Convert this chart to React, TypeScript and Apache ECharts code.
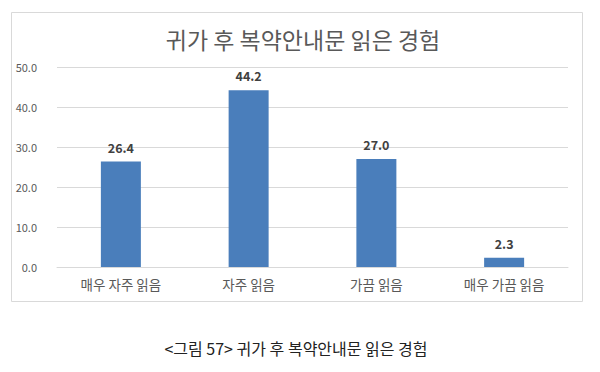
import React, { useEffect, useRef } from "react";
import * as echarts from "echarts";

const categories = ["매우 자주 읽음", "자주 읽음", "가끔 읽음", "매우 가끔 읽음"];
const values = [26.4, 44.2, 27.0, 2.3];
const titleText = "귀가 후 복약안내문 읽은 경험";
const captionText = "<그림 57> 귀가 후 복약안내문 읽은 경험";

const FONT = "'Noto Sans CJK KR', 'Noto Sans', sans-serif";

export default function App() {
  const ref = useRef<HTMLDivElement>(null);
  useEffect(() => {
    document.body.style.margin = "0";
    const chart = echarts.init(ref.current!, undefined, { renderer: "svg" });
    chart.setOption({
      animation: false,
      backgroundColor: "#ffffff",
      textStyle: { fontFamily: FONT },
      title: {
        text: titleText,
        left: 298,
        top: 22,
        textAlign: "center",
        textStyle: { fontSize: 23, fontWeight: "normal", color: "#595959", fontFamily: FONT },
      },
      graphic: [
        {
          type: "rect",
          shape: { x: 11.5, y: 12.5, width: 571, height: 289 },
          style: { fill: "none", stroke: "#d9d9d9", lineWidth: 1 },
          silent: true,
          z: -1,
        },
        {
          type: "text",
          x: 296,
          y: 348,
          style: {
            text: captionText,
            fontSize: 16,
            fontFamily: FONT,
            fill: "#222222",
            align: "center",
            verticalAlign: "middle",
          },
        },
      ],
      grid: { left: 57, right: 32, top: 67, bottom: 105 },
      xAxis: {
        type: "category",
        data: categories,
        axisLine: { lineStyle: { color: "#d9d9d9" } },
        axisTick: { show: false },
        axisLabel: { color: "#595959", fontSize: 13.5, margin: 10, fontFamily: FONT },
      },
      yAxis: {
        type: "value",
        min: 0,
        max: 50,
        interval: 10,
        axisLine: { show: false },
        axisTick: { show: false },
        splitLine: { lineStyle: { color: "#d9d9d9" } },
        axisLabel: {
          color: "#595959",
          fontSize: 11,
          margin: 20,
          formatter: (v: number) => v.toFixed(1),
          fontFamily: FONT,
        },
      },
      series: [
        {
          type: "bar",
          data: values,
          barWidth: 40,
          itemStyle: { color: "#4a7ebb" },
          label: {
            show: true,
            position: "top",
            distance: 8,
            formatter: (p: any) => p.value.toFixed(1),
            color: "#404040",
            fontWeight: "bold",
            fontSize: 12.5,
            fontFamily: FONT,
          },
        },
      ],
    });
    return () => chart.dispose();
  }, []);
  return <div ref={ref} style={{ width: 600, height: 372 }} />;
}
